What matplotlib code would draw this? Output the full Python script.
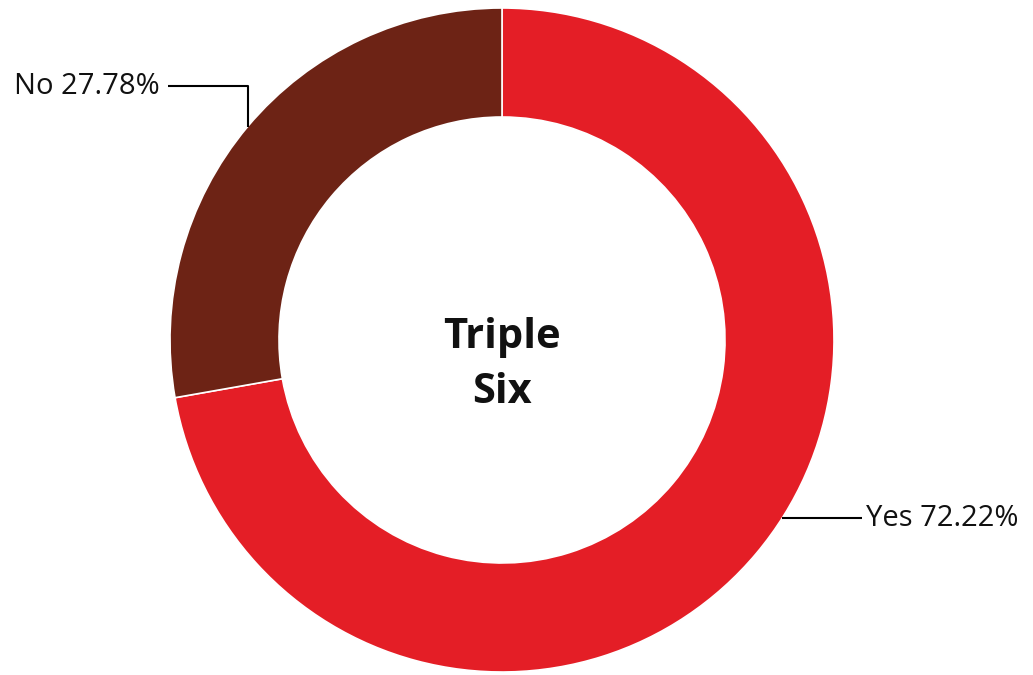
import matplotlib
matplotlib.use("Agg")
import matplotlib.pyplot as plt
import numpy as np

categories = ["Yes", "No"]
values = [72.22, 27.78]
colors = ["#E41E26", "#6D2315"]
center_title = ["Triple", "Six"]

W, H = 1033, 675
fig = plt.figure(figsize=(W / 100, H / 100), dpi=100)
ax = fig.add_axes([0, 0, 1, 1])

cx, cy = 502, H - 340
R = 332
width = 109

wedges, _ = ax.pie(values, colors=colors, startangle=90, counterclock=False,
                   radius=R, center=(cx, cy), frame=True,
                   wedgeprops=dict(width=width, edgecolor="white", linewidth=1.2))
ax.set_xlim(0, W)
ax.set_ylim(0, H)
ax.set_aspect("equal")
ax.axis("off")

font = "Open Sans"
for line, base in zip(center_title, [348, 403]):
    ax.text(cx, H - base, line, ha="center", va="baseline", fontsize=30,
            fontweight="bold", family=font, color="#111111")

# No label: elbow from wedge midpoint
w_no = wedges[1]
ang = np.deg2rad((w_no.theta1 + w_no.theta2) / 2)
px, py = cx + R * np.cos(ang), cy + R * np.sin(ang)
ly = H - 86
ax.plot([px, px, 168], [py, ly, ly], color="black", lw=1.5, solid_capstyle="butt")
ax.text(160, ly, f"{categories[1]} {values[1]:.2f}%", ha="right", va="center",
        fontsize=21, family=font, color="#111111")

# Yes label
ly2 = H - 518
dy = ly2 - cy
px2 = cx + np.sqrt(R ** 2 - dy ** 2)
ax.plot([px2, 862], [ly2, ly2], color="black", lw=1.5, solid_capstyle="butt")
ax.text(866, ly2, f"{categories[0]} {values[0]:.2f}%", ha="left", va="center",
        fontsize=21, family=font, color="#111111")

fig.savefig("out.png", dpi=100, facecolor="white")
